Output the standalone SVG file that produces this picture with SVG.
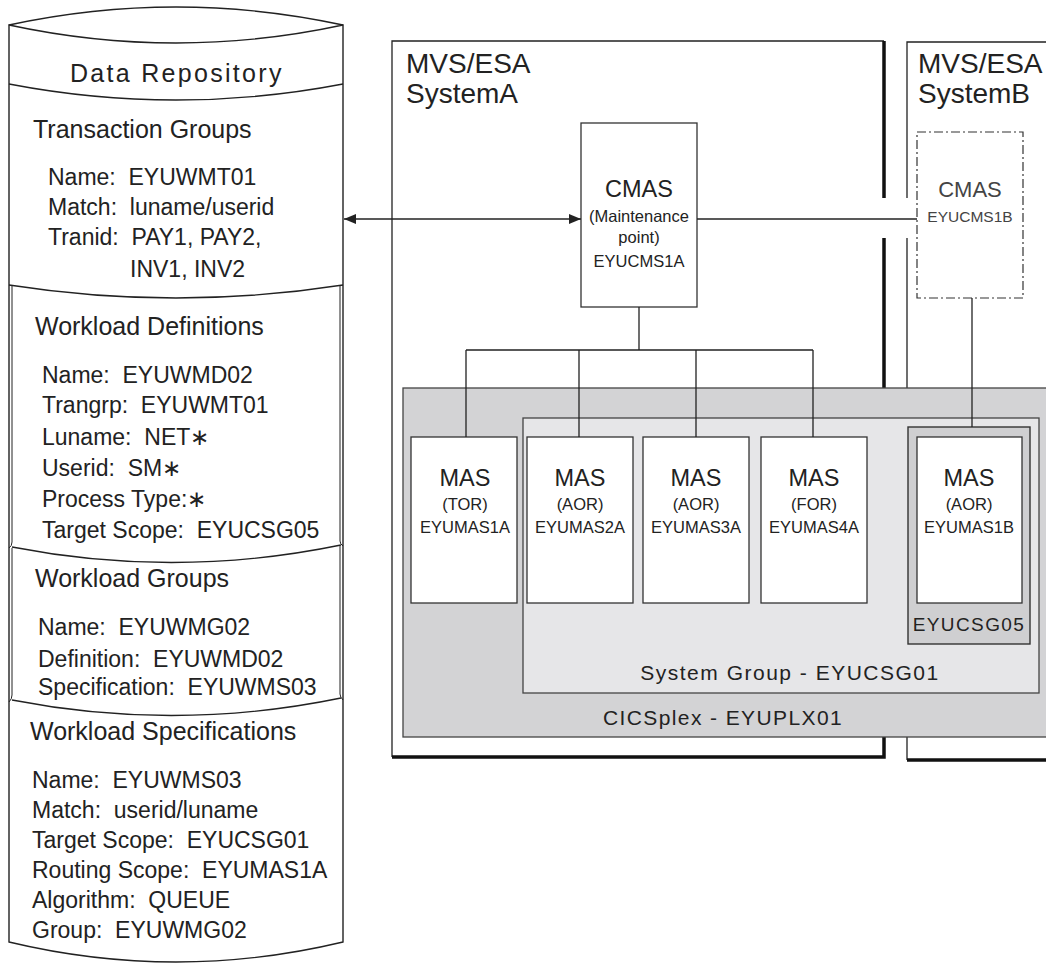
<svg xmlns="http://www.w3.org/2000/svg" width="1046" height="964" viewBox="0 0 1046 964">
<style>
text{font-family:"Liberation Sans",Arial,sans-serif;fill:#222;white-space:pre}
.ln{fill:none;stroke:#222;stroke-width:1.3}
.in{fill:none;stroke:#222;stroke-width:1}
.box{fill:#fff;stroke:#333;stroke-width:1.3}
.h{font-size:25px}
.d{font-size:23px}
.big{font-size:28px}
.mas{font-size:23.5px;text-anchor:middle}
.sm{font-size:16.5px;text-anchor:middle}
.thick{fill:none;stroke:#111;stroke-width:3.5}
</style>
<defs>
<marker id="arr" viewBox="0 0 12 10" refX="12" refY="5" markerWidth="12" markerHeight="10" markerUnits="userSpaceOnUse" orient="auto-start-reverse">
<path d="M0,0 L12,5 L0,10 Z" fill="#222"/>
</marker>
</defs>

<g id="repository">
<path d="M9,25 L9,942 Q176,982 343,942 L343,25 Z" fill="#fff" stroke="#222" stroke-width="1.4"/>
<path d="M9,25 Q176,-11 343,25 Q176,61 9,25 Z" fill="#fff" stroke="#222" stroke-width="1.4"/>
<path class="ln" d="M9,84 Q176,116 343,84"/>
<path class="ln" d="M9,285 Q176,311 343,285"/>
<path class="ln" d="M12,547 Q176,579 341,545"/>
<path class="ln" d="M12,700 Q176,732 341,698"/>
<path class="in" d="M12,286 L12,542 Q12,546 9,548"/>
<path class="in" d="M340,286 L340,541 Q340,544 343,546"/>
<path class="in" d="M12,548 L12,695 Q12,699 9,702"/>
<path class="in" d="M340,546 L340,694 Q340,697 343,700"/>
<text x="70" y="82" style="font-size:25px;letter-spacing:2.3px">Data Repository</text>
<text class="h" x="33" y="138">Transaction Groups</text>
<text class="d" x="48" y="185">Name:  EYUWMT01</text>
<text class="d" x="48" y="215">Match:  luname/userid</text>
<text class="d" x="48" y="245">Tranid:  PAY1, PAY2,</text>
<text class="d" x="130" y="277">INV1, INV2</text>
<text class="h" x="35" y="335">Workload Definitions</text>
<text class="d" x="42" y="383">Name:  EYUWMD02</text>
<text class="d" x="42" y="413">Trangrp:  EYUWMT01</text>
<text class="d" x="42" y="445">Luname:  NET∗</text>
<text class="d" x="42" y="476">Userid:  SM∗</text>
<text class="d" x="42" y="507">Process Type:∗</text>
<text class="d" x="42" y="538">Target Scope:  EYUCSG05</text>
<text class="h" x="35" y="587">Workload Groups</text>
<text class="d" x="38" y="635">Name:  EYUWMG02</text>
<text class="d" x="38" y="667">Definition:  EYUWMD02</text>
<text class="d" x="38" y="695">Specification:  EYUWMS03</text>
<text class="h" x="30" y="740">Workload Specifications</text>
<text class="d" x="32" y="788">Name:  EYUWMS03</text>
<text class="d" x="32" y="818">Match:  userid/luname</text>
<text class="d" x="32" y="848">Target Scope:  EYUCSG01</text>
<text class="d" x="32" y="878">Routing Scope:  EYUMAS1A</text>
<text class="d" x="32" y="908">Algorithm:  QUEUE</text>
<text class="d" x="32" y="938">Group:  EYUWMG02</text>
</g>

<g id="systemA">
<path class="ln" d="M884,41 L392,41 L392,757"/>
<path class="thick" d="M884,41 L884,198 M884,238 L884,757 L392,757"/>
<text class="big" x="406" y="73">MVS/ESA</text>
<text class="big" x="406" y="103">SystemA</text>
</g>

<g id="systemB">
<path class="ln" d="M1046,42 L907,42 L907,198 M907,238 L907,760"/>
<path class="thick" d="M907,760 L1046,760"/>
<text class="big" x="918" y="73">MVS/ESA</text>
<text class="big" x="918" y="103">SystemB</text>
</g>

<g id="cicsplex">
<rect x="403" y="388" width="650" height="349" fill="#d3d3d5" stroke="#444" stroke-width="1.3"/>
<text x="723" y="725" style="font-size:21px;letter-spacing:1.4px;text-anchor:middle">CICSplex - EYUPLX01</text>
</g>

<g id="systemgroup">
<rect x="523" y="418" width="516" height="275" fill="#e6e6e8" stroke="#444" stroke-width="1.3"/>
<text x="790" y="680" style="font-size:21px;letter-spacing:1.5px;text-anchor:middle">System Group - EYUCSG01</text>
</g>

<g id="eyucsg05">
<rect x="908" y="427" width="122" height="217" fill="#cfcfd1" stroke="#333" stroke-width="1.4"/>
<text x="969" y="631" style="font-size:19px;letter-spacing:1.4px;text-anchor:middle">EYUCSG05</text>
</g>

<g id="cmasA">
<rect class="box" x="581" y="123" width="116" height="184"/>
<text class="mas" x="639" y="197">CMAS</text>
<text class="sm" x="639" y="222">(Maintenance</text>
<text class="sm" x="639" y="243">point)</text>
<text class="sm" x="639" y="267">EYUCMS1A</text>
</g>

<g id="cmasB">
<rect x="917" y="132" width="106" height="166" fill="#fff" stroke="#333" stroke-width="1.2" stroke-dasharray="9 3 2 3"/>
<text x="970" y="197" style="font-size:22px;text-anchor:middle;fill:#444">CMAS</text>
<text x="970" y="222" style="font-size:15.5px;text-anchor:middle;fill:#444">EYUCMS1B</text>
</g>

<g id="mas1A">
<rect class="box" x="411" y="437" width="106" height="166"/>
<text class="mas" x="465" y="486">MAS</text>
<text class="sm" x="465" y="510">(TOR)</text>
<text class="sm" x="465" y="533">EYUMAS1A</text>
</g>
<g id="mas2A">
<rect class="box" x="527" y="437" width="106" height="166"/>
<text class="mas" x="580" y="486">MAS</text>
<text class="sm" x="580" y="510">(AOR)</text>
<text class="sm" x="580" y="533">EYUMAS2A</text>
</g>
<g id="mas3A">
<rect class="box" x="643" y="437" width="106" height="166"/>
<text class="mas" x="696" y="486">MAS</text>
<text class="sm" x="696" y="510">(AOR)</text>
<text class="sm" x="696" y="533">EYUMAS3A</text>
</g>
<g id="mas4A">
<rect class="box" x="761" y="437" width="106" height="166"/>
<text class="mas" x="814" y="486">MAS</text>
<text class="sm" x="814" y="510">(FOR)</text>
<text class="sm" x="814" y="533">EYUMAS4A</text>
</g>
<g id="mas1B">
<rect class="box" x="917" y="437" width="105" height="166"/>
<text class="mas" x="969" y="486">MAS</text>
<text class="sm" x="969" y="510">(AOR)</text>
<text class="sm" x="969" y="533">EYUMAS1B</text>
</g>

<g id="connectors">
<path class="ln" d="M344,219 L581,219" marker-start="url(#arr)" marker-end="url(#arr)"/>
<path class="ln" d="M697,219 L917,219"/>
<path class="ln" d="M639,307 L639,350 M466,350 L813,350 M466,350 L466,437 M579,350 L579,437 M696,350 L696,437 M813,350 L813,437"/>
<path class="ln" d="M972,298 L972,427"/>
</g>
</svg>
